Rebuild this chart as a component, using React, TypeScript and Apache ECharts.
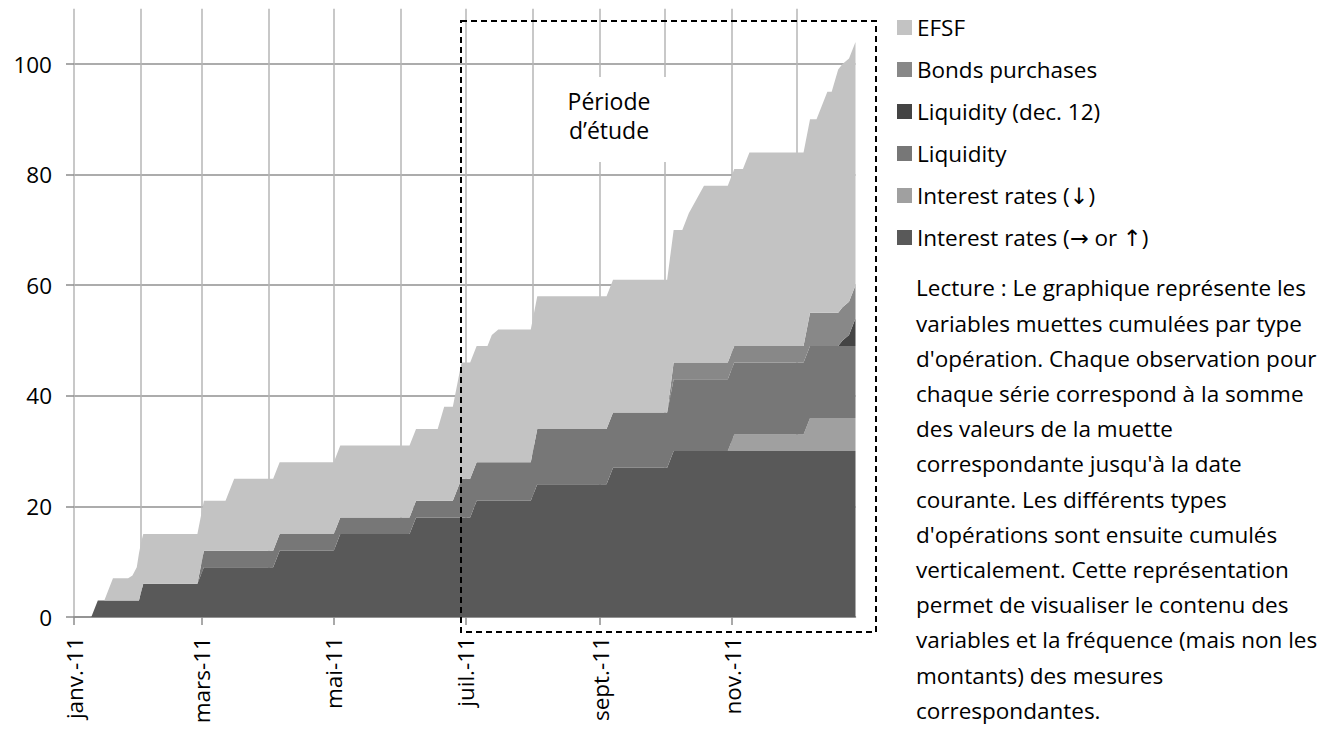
import React, { useEffect, useRef } from "react";
import * as echarts from "echarts";

// Knot dates (transitions of the cumulated dummies)
const dates = [
  "2011-01-01", "2011-01-09", "2011-01-12", "2011-01-15", "2011-01-19", "2011-01-26",
  "2011-01-28", "2011-01-30", "2011-01-31", "2011-02-01", "2011-02-02", "2011-02-27",
  "2011-03-02", "2011-03-12", "2011-03-16", "2011-04-03", "2011-04-06", "2011-05-01",
  "2011-05-04", "2011-06-05", "2011-06-08", "2011-06-18", "2011-06-21", "2011-06-25",
  "2011-06-29", "2011-07-03", "2011-07-06", "2011-07-11", "2011-07-13", "2011-07-16",
  "2011-07-31", "2011-08-03", "2011-09-04", "2011-09-07", "2011-10-02", "2011-10-05",
  "2011-10-09", "2011-10-12", "2011-10-19", "2011-10-30", "2011-11-02", "2011-11-06",
  "2011-11-09", "2011-12-04", "2011-12-07", "2011-12-10", "2011-12-14", "2011-12-15",
  "2011-12-17", "2011-12-20", "2011-12-22", "2011-12-25", "2011-12-28",
];

const interestUp = [
  0, 0, 3, 3, 3, 3, 3, 3, 3, 4.5, 6, 6,
  9, 9, 9, 9, 12, 12, 15, 15, 18, 18, 18, 18,
  18, 18, 21, 21, 21, 21, 21, 24, 24, 27, 27, 30,
  30, 30, 30, 30, 30, 30, 30, 30, 30, 30, 30, 30,
  30, 30, 30, 30, 30,
];
const interestDown = [
  0, 0, 0, 0, 0, 0, 0, 0, 0, 0, 0, 0,
  0, 0, 0, 0, 0, 0, 0, 0, 0, 0, 0, 0,
  0, 0, 0, 0, 0, 0, 0, 0, 0, 0, 0, 0,
  0, 0, 0, 0, 3, 3, 3, 3, 6, 6, 6, 6,
  6, 6, 6, 6, 6,
];
const liquidity = [
  0, 0, 0, 0, 0, 0, 0, 0, 0, 0, 0, 0,
  3, 3, 3, 3, 3, 3, 3, 3, 3, 3, 3, 3,
  7, 7, 7, 7, 7, 7, 7, 10, 10, 10, 10, 13,
  13, 13, 13, 13, 13, 13, 13, 13, 13, 13, 13, 13,
  13, 13, 13, 13, 13,
];
const liquidityDec12 = [
  0, 0, 0, 0, 0, 0, 0, 0, 0, 0, 0, 0,
  0, 0, 0, 0, 0, 0, 0, 0, 0, 0, 0, 0,
  0, 0, 0, 0, 0, 0, 0, 0, 0, 0, 0, 0,
  0, 0, 0, 0, 0, 0, 0, 0, 0, 0, 0, 0,
  0, 0, 1, 2, 5,
];
const bondsPurchases = [
  0, 0, 0, 0, 0, 0, 0, 0, 0, 0, 0, 0,
  0, 0, 0, 0, 0, 0, 0, 0, 0, 0, 0, 0,
  0, 0, 0, 0, 0, 0, 0, 0, 0, 0, 0, 3,
  3, 3, 3, 3, 3, 3, 3, 3, 6, 6, 6, 6,
  6, 6, 6, 6, 6,
];
const efsf = [
  0, 0, 0, 0, 4, 4, 4.5, 6, 8.5, 9, 9, 9,
  9, 9, 13, 13, 13, 13, 13, 13, 13, 13, 17, 17,
  21, 21, 21, 21, 23, 24, 24, 24, 24, 24, 24, 24,
  24, 27, 32, 32, 32, 32, 35, 35, 35, 35, 39, 40,
  40, 44, 44, 44, 44,
];

const seriesNames = [
  "Interest rates (→ or ↑)",
  "Interest rates (↓)",
  "Liquidity",
  "Liquidity (dec. 12)",
  "Bonds purchases",
  "EFSF",
];
const seriesColors = ["#595959", "#a0a0a0", "#777777", "#444444", "#888888", "#c3c3c3"];
const legendOrder = [
  "EFSF",
  "Bonds purchases",
  "Liquidity (dec. 12)",
  "Liquidity",
  "Interest rates (↓)",
  "Interest rates (→ or ↑)",
];

const xMin = "2011-01-01";
const xMax = "2011-12-28";
const gridMonths = [
  "2011-01-01", "2011-02-01", "2011-03-01", "2011-04-01", "2011-05-01", "2011-06-01",
  "2011-07-01", "2011-08-01", "2011-09-01", "2011-10-01", "2011-11-01", "2011-12-01",
];
const labelMonths = ["2011-01-01", "2011-03-01", "2011-05-01", "2011-07-01", "2011-09-01", "2011-11-01"];
const monthNames = ["janv.", "févr.", "mars", "avr.", "mai", "juin", "juil.", "août", "sept.", "oct.", "nov.", "déc."];
const yTicks = [0, 20, 40, 60, 80, 100];

const periodText = ["Période", "d’étude"];
const noteLines = [
  "Lecture : Le graphique représente les",
  "variables muettes cumulées par type",
  "d'opération. Chaque observation pour",
  "chaque série correspond à la somme",
  "des valeurs de la muette",
  "correspondante jusqu'à la date",
  "courante. Les différents types",
  "d'opérations sont ensuite cumulés",
  "verticalement. Cette représentation",
  "permet de visualiser le contenu des",
  "variables et la fréquence (mais non les",
  "montants) des mesures",
  "correspondantes.",
];

const FONT = "'Open Sans', 'DejaVu Sans', sans-serif";
const FS = 22.5;

function toTime(s: string): number {
  const [y, m, d] = s.split("-").map(Number);
  return new Date(y, m - 1, d).getTime();
}

export default function App() {
  const ref = useRef<HTMLDivElement>(null);

  useEffect(() => {
    if (!ref.current) return;
    const chart = echarts.init(ref.current, undefined, { renderer: "svg" });
    const valueLists = [interestUp, interestDown, liquidity, liquidityDec12, bondsPurchases, efsf];
    const times = dates.map(toTime);

    const series = seriesNames.map((name, i) => ({
      name,
      type: "line",
      stack: "total",
      xAxisIndex: 0,
      yAxisIndex: 0,
      symbol: "none",
      showSymbol: false,
      lineStyle: { width: 0 },
      itemStyle: { color: seriesColors[i] },
      areaStyle: { color: seriesColors[i], opacity: 1 },
      data: times.map((t, k) => [t, valueLists[i][k]]),
      z: 2,
    }));

    const option: any = {
      animation: false,
      textStyle: { fontFamily: FONT },
      grid: { left: 74, right: 466.5, top: 8.7, bottom: 136, containLabel: false },
      legend: {
        data: legendOrder,
        orient: "vertical",
        left: 897,
        top: 16,
        padding: 0,
        itemWidth: 15,
        itemHeight: 15,
        itemGap: 19,
        icon: "rect",
        selectedMode: false,
        textStyle: { fontFamily: FONT, fontSize: FS, color: "#000", lineHeight: 21 },
      },
      xAxis: [
        {
          // time axis carrying the stacked series
          type: "time",
          min: toTime(xMin),
          max: toTime(xMax),
          show: false,
          axisLine: { show: false },
          axisTick: { show: false },
          axisLabel: { show: false },
          splitLine: { show: false },
        },
        {
          // same extent, month grid and labels
          type: "value",
          min: toTime(xMin),
          max: toTime(xMax),
          position: "bottom",
          axisLine: { show: true, onZero: false, lineStyle: { color: "#8c8c8c", width: 1.5 } },
          axisTick: { show: false, customValues: gridMonths.map(toTime) },
          splitLine: {
            show: true,
            customValues: gridMonths.map(toTime),
            lineStyle: { color: "#b6b6b6", width: 1.5 },
          },
          axisLabel: {
            customValues: labelMonths.map(toTime),
            rotate: 90,
            margin: 20,
            fontFamily: FONT,
            fontSize: FS,
            color: "#000",
            formatter: (v: number) => {
              const d = new Date(v);
              return monthNames[d.getMonth()] + "-" + String(d.getFullYear()).slice(2);
            },
          },
        },
        {
          // same extent, ticks every two months
          type: "value",
          min: toTime(xMin),
          max: toTime(xMax),
          position: "bottom",
          axisLine: { show: false, onZero: false },
          axisTick: {
            show: true,
            customValues: labelMonths.map(toTime),
            length: 8,
            lineStyle: { color: "#8c8c8c", width: 1.5 },
          },
          axisLabel: { show: false },
          splitLine: { show: false },
        },
      ],
      yAxis: {
        type: "value",
        min: 0,
        max: 110,
        interval: 20,
        axisLine: { show: false },
        axisTick: {
          show: true,
          length: 8,
          customValues: yTicks,
          lineStyle: { color: "#8c8c8c", width: 1.5 },
        },
        splitLine: {
          show: true,
          customValues: yTicks,
          lineStyle: { color: "#909090", width: 1.5 },
        },
        axisLabel: {
          customValues: yTicks,
          margin: 22,
          fontFamily: FONT,
          fontSize: FS,
          color: "#000",
        },
      },
      series,
      graphic: [
        {
          type: "rect",
          z: 50,
          shape: { x: 540, y: 77, width: 140, height: 85 },
          style: { fill: "#ffffff" },
        },
        {
          type: "text",
          z: 51,
          x: 609,
          y: 101,
          style: {
            text: periodText[0],
            fontFamily: FONT,
            fontSize: 23,
            fill: "#000",
            textAlign: "center",
            textVerticalAlign: "middle",
          },
        },
        {
          type: "text",
          z: 51,
          x: 609,
          y: 130,
          style: {
            text: periodText[1],
            fontFamily: FONT,
            fontSize: 23,
            fill: "#000",
            textAlign: "center",
            textVerticalAlign: "middle",
          },
        },
        {
          type: "rect",
          z: 52,
          shape: { x: 461, y: 21, width: 415, height: 611 },
          style: { fill: "none", stroke: "#000", lineWidth: 2, lineDash: [6, 4] },
        },
        {
          type: "text",
          z: 51,
          x: 916,
          y: 270.4,
          style: {
            text: noteLines.join("\n"),
            fontFamily: FONT,
            fontSize: FS,
            lineHeight: 35.2,
            fill: "#000",
            textAlign: "left",
            textVerticalAlign: "top",
          },
        },
      ],
    };

    chart.setOption(option);
    return () => chart.dispose();
  }, []);

  return (
    <div
      ref={ref}
      style={{ position: "absolute", left: 0, top: 0, width: 1322, height: 753, background: "#fff" }}
    />
  );
}
